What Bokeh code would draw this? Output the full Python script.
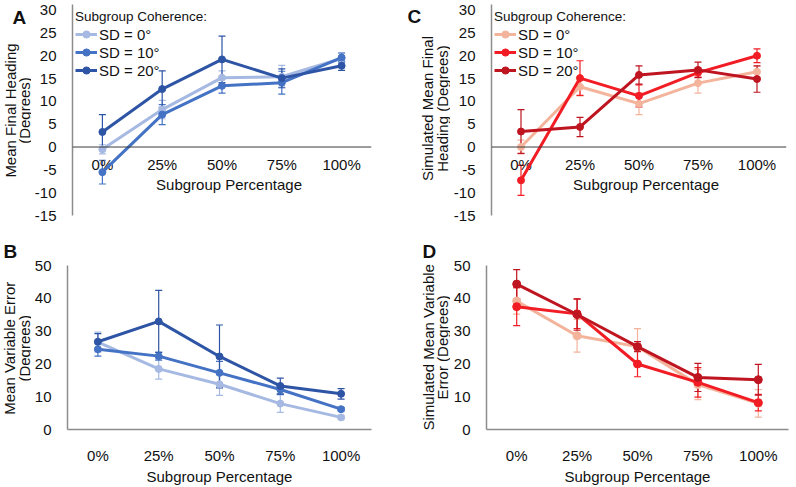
import math
from bokeh.plotting import figure
from bokeh.models import (ColumnDataSource, Whisker, TeeHead, Legend, LegendItem,
                          Span, Range1d, FactorRange)
from bokeh.layouts import column, row
from bokeh.embed import file_html
from bokeh.resources import INLINE
from bokeh.core.properties import value

# ---------------- data ----------------
categories = ["0%", "25%", "50%", "75%", "100%"]
series_labels = ["SD = 0°", "SD = 10°", "SD = 20°"]
legend_title = "Subgroup Coherence:"
x_title = "Subgroup Percentage"
panel_letters = ["A", "B", "C", "D"]
y_titles = [["Mean Final Heading", "(Degrees)"],
            ["Mean Variable Error", "(Degrees)"],
            ["Simulated Mean Final", "Heading (Degrees)"],
            ["Simulated Mean Variable", "Error (Degrees)"]]
heading_ticks = [-15, -10, -5, 0, 5, 10, 15, 20, 25, 30]
varerr_ticks = [0, 10, 20, 30, 40, 50]

# A: Mean Final Heading (observed)
heading_sd0 = [-0.5, 8.2, 15.2, 15.4, 19.4]
heading_sd10 = [-5.5, 7.1, 13.4, 14.1, 19.6]
heading_sd20 = [3.3, 12.7, 19.2, 15.1, 17.8]
heading_sd0_err = [1.0, 2.0, 1.5, 2.5, 1.2]
heading_sd10_err = [2.6, 2.2, 1.6, 2.5, 1.0]
heading_sd20_err = [3.8, 4.0, 5.1, 2.0, 1.0]

# B: Mean Variable Error (observed)
varerr_sd0 = [26.7, 18.5, 13.8, 7.9, 3.7]
varerr_sd10 = [24.5, 22.4, 17.3, 12.2, 6.2]
varerr_sd20 = [26.8, 33.0, 22.3, 13.3, 10.9]
varerr_sd0_err = [3.0, 3.1, 3.4, 2.7, 0.5]
varerr_sd10_err = [2.1, 1.2, 3.5, 1.5, 0.5]
varerr_sd20_err = [2.5, 9.5, 9.6, 2.4, 1.6]

# C: Simulated Mean Final Heading
sim_heading_sd0 = [0.0, 13.2, 9.5, 14.0, 16.5]
sim_heading_sd10 = [-7.3, 15.1, 11.2, 16.3, 20.0]
sim_heading_sd20 = [3.4, 4.4, 15.8, 16.9, 14.9]
sim_heading_sd0_err = [1.5, 2.0, 2.4, 2.2, 1.2]
sim_heading_sd10_err = [3.3, 3.8, 2.4, 1.0, 1.5]
sim_heading_sd20_err = [4.8, 2.1, 2.0, 1.7, 2.9]

# D: Simulated Mean Variable Error
sim_varerr_sd0 = [39.2, 28.6, 25.3, 13.7, 8.0]
sim_varerr_sd10 = [37.5, 35.3, 20.0, 14.4, 8.2]
sim_varerr_sd20 = [44.4, 35.1, 25.3, 15.9, 15.2]
sim_varerr_sd0_err = [4.0, 5.0, 5.5, 4.6, 4.2]
sim_varerr_sd10_err = [5.8, 4.5, 3.9, 4.5, 2.5]
sim_varerr_sd20_err = [4.4, 4.8, 1.5, 4.3, 4.7]

blues = ["#a6b9e2", "#4472c4", "#2e55a5"]
reds = ["#f4b49c", "#f21d24", "#bf1521"]

FONT = "Liberation Sans"
TXT = "#111111"
AXIS_GRAY = "#8c8c8c"


def style_blank(f):
    f.outline_line_color = None
    f.xgrid.grid_line_color = None
    f.ygrid.grid_line_color = None
    f.background_fill_color = None
    f.border_fill_color = None


def make_margin(width, height, border_bottom, letter, letter_pos, lines, line_xs,
                center_y):
    """Narrow figure (same frame rows as its panel) holding letter + y title."""
    fh = height - border_bottom
    m = figure(width=width, height=height, x_range=Range1d(0, width),
               y_range=Range1d(0, fh), x_axis_location=None,
               y_axis_location=None, output_backend="svg", toolbar_location=None,
               min_border_left=0, min_border_right=0, min_border_top=0,
               min_border_bottom=border_bottom)
    style_blank(m)
    m.text(x=[letter_pos[0]], y=[letter_pos[1]], text=[letter],
           text_font=value(FONT), text_font_size="19px", text_font_style="bold",
           text_color=TXT, text_align="left", text_baseline="alphabetic")
    m.text(x=line_xs, y=[center_y] * len(lines), text=lines, angle=math.pi / 2,
           text_font=value(FONT), text_font_size="15px", text_color=TXT,
           text_align="center", text_baseline="middle")
    return m


def make_panel(ticks, y_top, axis_top, means, errs, colors, top_row, width,
               height, border_left, border_right, border_bottom, label_standoff,
               show_legend, marker_size):
    p = figure(width=width, height=height, x_range=FactorRange(factors=categories),
               y_range=Range1d(ticks[0], y_top), output_backend="svg",
               toolbar_location=None, min_border_left=border_left,
               min_border_right=border_right, min_border_top=0,
               min_border_bottom=border_bottom,
               x_axis_location=None if top_row else "below")
    style_blank(p)

    ya = p.yaxis[0]
    ya.ticker = ticks
    ya.major_label_overrides = {t: str(t) for t in ticks}
    ya.bounds = (ticks[0], axis_top)
    ya.axis_line_color = AXIS_GRAY
    ya.axis_line_width = 1.5
    ya.major_tick_line_color = None
    ya.minor_tick_line_color = None
    ya.major_label_text_font = FONT
    ya.major_label_text_font_size = "15px"
    ya.major_label_text_color = TXT
    ya.major_label_standoff = label_standoff

    if top_row:
        p.add_layout(Span(location=0, dimension="width", line_color="#3a3a3a",
                          line_width=1))
        p.text(x=categories, y=[0] * len(categories), text=categories,
               text_font=value(FONT), text_font_size="15px", text_color=TXT,
               text_align="center", text_baseline="middle", y_offset=17)
        p.text(x=[categories[2]], y=[0], text=[x_title], text_font=value(FONT),
               text_font_size="15px", text_color=TXT, text_align="center",
               text_baseline="middle", y_offset=37, x_offset=7)
    else:
        xa = p.xaxis[0]
        xa.axis_line_color = AXIS_GRAY
        xa.axis_line_width = 1.5
        xa.major_tick_line_color = None
        xa.minor_tick_line_color = None
        xa.major_label_text_font = FONT
        xa.major_label_text_font_size = "15px"
        xa.major_label_text_color = TXT
        xa.major_label_standoff = 11
        xa.axis_label = x_title
        xa.axis_label_text_font = FONT
        xa.axis_label_text_font_size = "15px"
        xa.axis_label_text_font_style = "normal"
        xa.axis_label_text_color = TXT
        xa.axis_label_standoff = 1

    for m, e, c in zip(means, errs, colors):
        src = ColumnDataSource(dict(x=categories,
                                    lo=[a - b for a, b in zip(m, e)],
                                    hi=[a + b for a, b in zip(m, e)]))
        p.add_layout(Whisker(source=src, base="x", upper="hi", lower="lo",
                             line_color=c, line_width=1.2,
                             upper_head=TeeHead(size=7, line_color=c, line_width=1.2),
                             lower_head=TeeHead(size=7, line_color=c, line_width=1.2)))
    items = []
    for lab, m, c in zip(series_labels, means, colors):
        ln = p.line(x=categories, y=m, line_color=c, line_width=3)
        sc = p.scatter(x=categories, y=m, size=marker_size, fill_color=c,
                       line_color=c)
        items.append(LegendItem(label=lab, renderers=[ln, sc]))

    if show_legend:
        frame_h = height - border_bottom
        lg = Legend(items=items, location=(1, frame_h - 6 - 75), title=legend_title)
        lg.title_text_font = FONT
        lg.title_text_font_size = "13.5px"
        lg.title_text_font_style = "normal"
        lg.title_text_color = TXT
        lg.title_standoff = 1
        lg.label_text_font = FONT
        lg.label_text_font_size = "15px"
        lg.label_text_color = TXT
        lg.label_height = 18
        lg.glyph_height = 18
        lg.glyph_width = 22
        lg.label_standoff = 2
        lg.spacing = 0
        lg.padding = 2
        lg.margin = 0
        lg.background_fill_alpha = 0
        lg.border_line_alpha = 0
        p.add_layout(lg)
    return p


TOP_H, TOP_BB = 240, 25
BOT_H, BOT_BB = 247, 47

mA = make_margin(31, TOP_H, TOP_BB, panel_letters[0], (12, 198), y_titles[0],
                 [9.5, 23.5], 105)
pA = make_panel(heading_ticks, 32.1, 31.2,
                [heading_sd0, heading_sd10, heading_sd20],
                [heading_sd0_err, heading_sd10_err, heading_sd20_err], blues,
                True, 369, TOP_H, 34, 29, TOP_BB, 10, True, 7)

mC = make_margin(50, TOP_H, TOP_BB, panel_letters[2], (7, 199), y_titles[2],
                 [26.5, 41.5], 107)
pC = make_panel(heading_ticks, 32.1, 31.2,
                [sim_heading_sd0, sim_heading_sd10, sim_heading_sd20],
                [sim_heading_sd0_err, sim_heading_sd10_err, sim_heading_sd20_err],
                reds, True, 346, TOP_H, 34, 10, TOP_BB, 10, True, 7)

mB = make_margin(31, BOT_H, BOT_BB, panel_letters[1], (3, 188), y_titles[1],
                 [9, 23.5], 86)
pB = make_panel(varerr_ticks, 57.7, 50,
                [varerr_sd0, varerr_sd10, varerr_sd20],
                [varerr_sd0_err, varerr_sd10_err, varerr_sd20_err], blues,
                False, 369, BOT_H, 34, 29, BOT_BB, 10, False, 7)

mD = make_margin(50, BOT_H, BOT_BB, panel_letters[3], (22, 188), y_titles[3],
                 [27.5, 42], 87)
pD = make_panel(varerr_ticks, 57.7, 50,
                [sim_varerr_sd0, sim_varerr_sd10, sim_varerr_sd20],
                [sim_varerr_sd0_err, sim_varerr_sd10_err, sim_varerr_sd20_err],
                reds, False, 346, BOT_H, 34, 8, BOT_BB, 10, False, 8)

layout = column(row(mA, pA, mC, pC), row(mB, pB, mD, pD))
open("out.html", "w").write(file_html(layout, INLINE))
